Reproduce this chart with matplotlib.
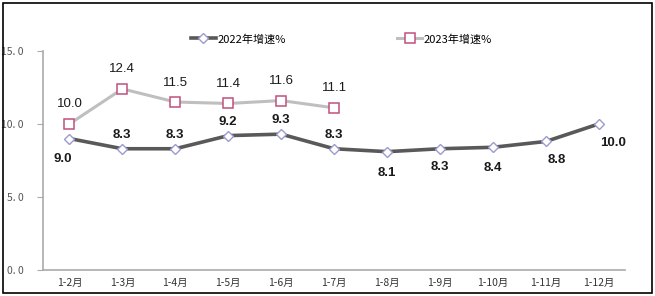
import matplotlib.pyplot as plt
from matplotlib.patches import Rectangle

plt.rcParams['font.family'] = ['Noto Sans CJK SC', 'DejaVu Sans']

# ── Data ──────────────────────────────────────────────────────────────────────
months = ["1-2月", "1-3月", "1-4月", "1-5月", "1-6月", "1-7月",
          "1-8月", "1-9月", "1-10月", "1-11月", "1-12月"]
growth_2022 = [9.0, 8.3, 8.3, 9.2, 9.3, 8.3, 8.1, 8.3, 8.4, 8.8, 10.0]
growth_2023 = [10.0, 12.4, 11.5, 11.4, 11.6, 11.1]
yticks = [0, 5, 10, 15]
ytick_labels = ["0. 0", "5. 0", "10. 0", "15. 0"]

# label offsets (points) for 2022 values
off_2022 = [(-5, -15), (0, 10), (0, 10), (0, 10), (0, 10), (0, 10),
            (0, -15), (0, -13), (0, -15), (8, -13), (10, -14)]

# ── Figure ────────────────────────────────────────────────────────────────────
fig = plt.figure(figsize=(6.55, 2.96), dpi=100)
ax = fig.add_axes([0.0656, 0.088, 0.889, 0.74])

x22 = range(len(growth_2022))
x23 = range(len(growth_2023))
ax.plot(x22, growth_2022, color='#595959', lw=2.6, marker='D', ms=5,
        mfc='white', mec='#9b9bd0', mew=1.0, label="2022年增速%", zorder=3)
ax.plot(x23, growth_2023, color='#bfbfbf', lw=2.2, marker='s', ms=7,
        mfc='white', mec='#c0507f', mew=1.1, label="2023年增速%", zorder=3)

for i, v in enumerate(growth_2022):
    ax.annotate(f"{v:.1f}", (i, v), xytext=off_2022[i], textcoords='offset points',
                ha='center', va='center', fontsize=9.5, fontweight='bold',
                color='#1a1a1a', family=['Liberation Sans', 'DejaVu Sans'])
for i, v in enumerate(growth_2023):
    ax.annotate(f"{v:.1f}", (i, v), xytext=(0, 14), textcoords='offset points',
                ha='center', va='center', fontsize=9.5, color='#1a1a1a',
                family=['Liberation Sans', 'DejaVu Sans'])

ax.set_xlim(-0.5, len(months) - 0.5)
ax.set_ylim(0, 15)
ax.set_xticks(list(x22))
ax.set_xticklabels(months, fontsize=7.5, color='#333333')
ax.set_yticks(yticks)
ax.set_yticklabels(ytick_labels, fontsize=7.5, color='#555555')
ax.tick_params(axis='x', length=0, pad=6)
ax.tick_params(axis='y', length=4, color='#aaaaaa', pad=10)
for s in ['top', 'right']:
    ax.spines[s].set_visible(False)
ax.spines['left'].set_color('#aaaaaa')
ax.spines['bottom'].set_color('#aaaaaa')
ax.spines['left'].set_linewidth(1.2)
ax.spines['bottom'].set_linewidth(1.2)

ax.legend(loc='center', bbox_to_anchor=(0.513, 1.054), ncol=2, frameon=False,
          fontsize=8, columnspacing=10, handlelength=2.2, handletextpad=0.2)

fig.patches.append(Rectangle((0.004, 0.01), 0.992, 0.98, transform=fig.transFigure,
                             fill=False, edgecolor='black', lw=1.2))

fig.savefig("out.png", dpi=100)
